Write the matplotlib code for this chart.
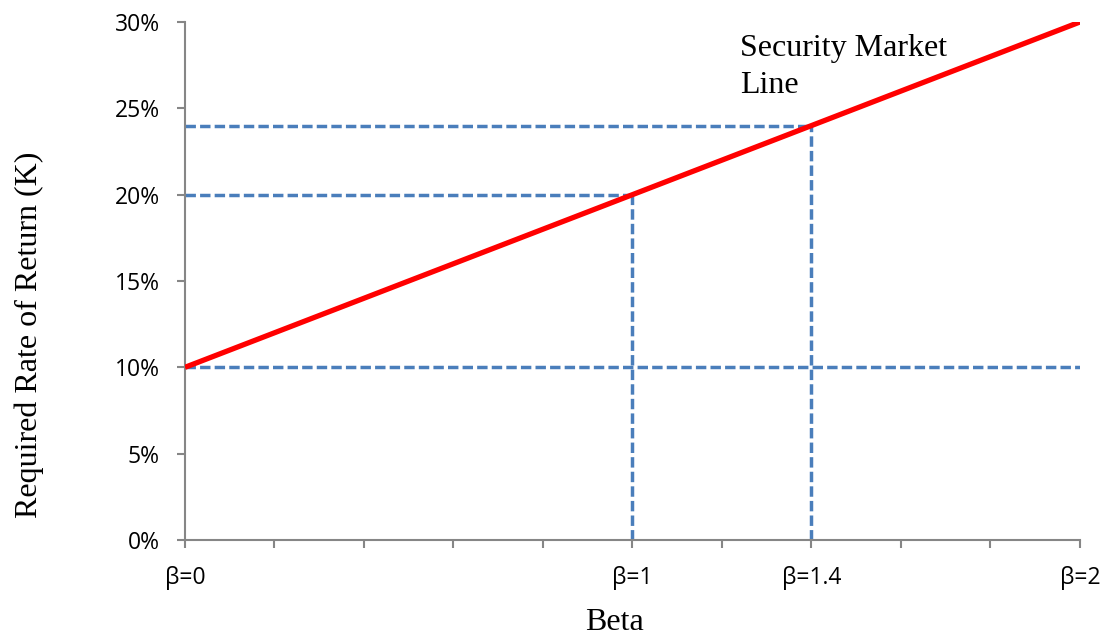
import matplotlib
matplotlib.use("Agg")
import matplotlib.pyplot as plt
from matplotlib.ticker import FuncFormatter, FixedLocator

# Security Market Line: required return as a function of beta
sml_beta = [0.0, 2.0]
sml_return = [10, 30]

# Reference points marked on the line
ref_beta = [1.0, 1.4]
ref_return = [20, 24]
risk_free = 10

x_tick_pos = [0.0, 0.2, 0.4, 0.6, 0.8, 1.0, 1.2, 1.4, 1.6, 1.8, 2.0]
x_tick_labels = ["β=0", "", "", "", "", "β=1", "", "β=1.4", "", "", "β=2"]
y_ticks = [0, 5, 10, 15, 20, 25, 30]

fig = plt.figure(figsize=(11.07, 6.37), dpi=100)
ax = fig.add_axes([0.1671, 0.1523, 0.8085, 0.8132])

guide = dict(color="#4a7ebb", lw=2.5, ls=(0, (3, 1.2)), zorder=2)

# Risk-free level across the whole range
ax.plot([0, 2], [risk_free, risk_free], **guide)
# Guides from each reference point to both axes
for b, r in zip(ref_beta, ref_return):
    ax.plot([0, b], [r, r], **guide)
    ax.plot([b, b], [0, r], **guide)

ax.plot(sml_beta, sml_return, color="#ff0000", lw=3.8, solid_capstyle="butt", zorder=3)

ax.set_xlim(0, 2)
ax.set_ylim(0, 30)
ax.xaxis.set_major_locator(FixedLocator(x_tick_pos))
ax.set_xticklabels(x_tick_labels)
ax.set_yticks(y_ticks)
ax.yaxis.set_major_formatter(FuncFormatter(lambda v, p: f"{v:.0f}%"))

for side in ("top", "right"):
    ax.spines[side].set_visible(False)
for side in ("left", "bottom"):
    ax.spines[side].set_color("#868686")
    ax.spines[side].set_linewidth(1.5)
ax.tick_params(axis="both", color="#868686", width=1.5, length=6, direction="out")
ax.tick_params(axis="x", pad=13)
ax.tick_params(axis="y", pad=12)
for lab in ax.get_xticklabels() + ax.get_yticklabels():
    lab.set_fontfamily("Open Sans")
    lab.set_fontsize(16.5)
    lab.set_color("black")

serif = "Liberation Serif"
fig.text(614 / 1107, 1 - 622 / 637, "Beta", family=serif, fontsize=23,
         ha="center", va="center")
fig.text(29 / 1107, 1 - 335 / 637, "Required Rate of Return (K)", family=serif,
         fontsize=23, rotation=90, ha="center", va="center")

ax.text(1.24, 29.3, "Security Market\nLine", family=serif, fontsize=23,
        ha="left", va="top", linespacing=1.37)

fig.savefig("out.png", dpi=100)
